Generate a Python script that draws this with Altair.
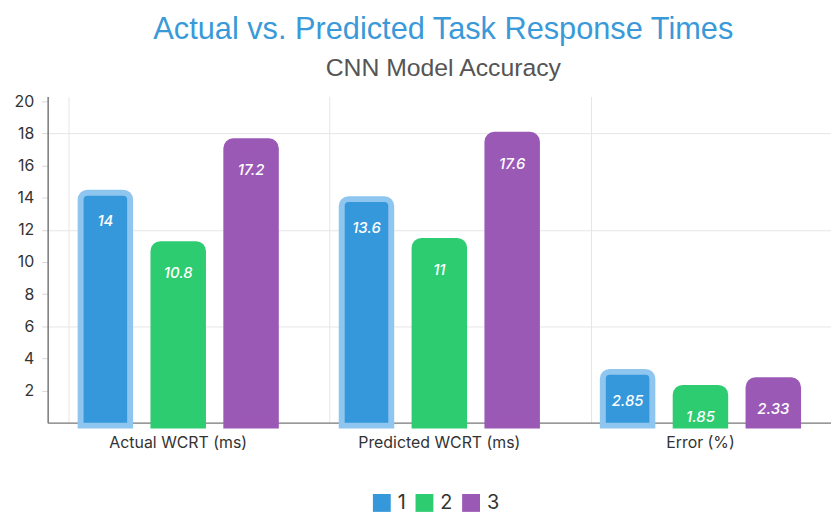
import altair as alt
import pandas as pd

groups = ["Actual WCRT (ms)", "Predicted WCRT (ms)", "Error (%)"]
series = ["1", "2", "3"]
values_1 = [14, 13.6, 2.85]
values_2 = [10.8, 11, 1.85]
values_3 = [17.2, 17.6, 2.33]
y_ticks = [2, 4, 6, 8, 10, 12, 14, 16, 18, 20]

fill_colors = ["#3498db", "#2ecc71", "#9b59b6"]
stroke_colors = ["#8fc6ef", "#2ecc71", "#9b59b6"]

rows = []
for s, vals in zip(series, [values_1, values_2, values_3]):
    for g, v in zip(groups, vals):
        rows.append({"group": g, "series": s, "value": v, "label": f"{v:g}"})
df = pd.DataFrame(rows)

x_enc = alt.X("group:N", sort=groups,
              scale=alt.Scale(paddingInner=0.163, paddingOuter=0.0815),
              axis=alt.Axis(title=None, labelAngle=0, labelFontSize=16, labelColor="#333",
                            labelFont="Inter", labelPadding=12, ticks=False,
                            grid=True, bandPosition=0, gridColor="#e6e6e6",
                            domainColor="#777", domainWidth=1.5))
xoff_enc = alt.XOffset("series:N", sort=series,
                       scale=alt.Scale(paddingInner=0.32, paddingOuter=0.16))

y_enc = alt.Y("value:Q",
              scale=alt.Scale(domain=[0, 20.3], nice=False),
              axis=alt.Axis(title=None, values=y_ticks, labelFontSize=16, labelColor="#333",
                            labelFont="Inter", tickColor="#d8d8d8", tickSize=6, labelPadding=8,
                            labelOverlap=False,
                            domainColor="#777", domainWidth=1.5,
                            gridColor="#e6e6e6",
                            gridOpacity={"condition": {"test": "datum.value % 6 === 0", "value": 1}, "value": 0}))

base = alt.Chart(df).encode(x=x_enc, xOffset=xoff_enc, y=y_enc)

bars = base.mark_bar(
    cornerRadiusTopLeft=7, cornerRadiusTopRight=7, strokeWidth=6, yOffset=-5, y2Offset=3
).encode(
    y2=alt.datum(0),
    fill=alt.Fill("series:N", sort=series, scale=alt.Scale(domain=series, range=fill_colors),
                  legend=alt.Legend(title=None, orient="none", direction="horizontal",
                                    legendX=327, legendY=400,
                                    symbolType="square", symbolSize=324, symbolStrokeWidth=0,
                                    labelFontSize=20, labelColor="#333", labelFont="Inter",
                                    symbolOpacity=1, columnPadding=8, labelOffset=6)),
    stroke=alt.Stroke("series:N", sort=series, scale=alt.Scale(domain=series, range=stroke_colors),
                      legend=None),
)

labels = base.mark_text(
    color="white", fontSize=15, fontStyle="italic", fontWeight=500, font="Inter", dy=24
).encode(
    text="label:N",
)

chart = alt.layer(bars, labels).properties(
    width=790, height=329,
    title=alt.TitleParams(
        text="Actual vs. Predicted Task Response Times",
        subtitle="CNN Model Accuracy",
        fontSize=31, font="Liberation Sans", fontWeight="normal", color="#3a9ad9",
        subtitleFont="Liberation Sans", subtitleFontSize=25, subtitleColor="#555",
        subtitlePadding=11, offset=11, anchor="middle", dx=4,
    ),
    autosize=alt.AutoSizeParams(type="none"),
    padding={"left": 40, "top": 87, "right": 0, "bottom": 91},
).configure_view(stroke=None)

chart.save("out.html", embed_options={"renderer": "svg", "actions": False})
